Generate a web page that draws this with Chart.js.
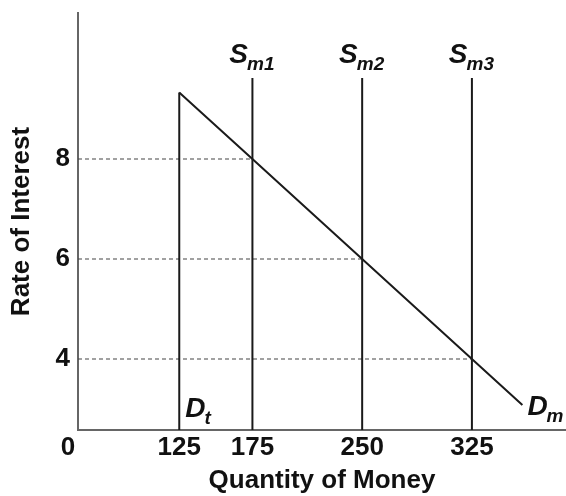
<!DOCTYPE html>
<html>
<head>
<meta charset="utf-8">
<script src="https://cdn.jsdelivr.net/npm/chart.js@4"></script>
<style>
    body { margin: 0; background: #fff; }
    #wrap { width: 566px; height: 496px; }
</style>
</head>
<body>
<div id="wrap"><canvas id="myChart"></canvas></div>
<script>
// quantities of money where the curves stand
var xTicks = [125, 175, 250, 325];
var supplyQty = [175, 250, 325];
var supplyNames = ['1', '2', '3'];
// interest rates at the equilibria
var yTicks = [4, 6, 8];
var rates = [8, 6, 4];
// demand for money (Dm) and transactions demand (Dt)
var demandQty = [125, 175, 250, 325, 359.5];
var demandRate = [9.33, 8, 6, 4, 3.08];
var transQty = 125;
var supplyTop = 9.62;

var xMin = 55.8, xMax = 389.3;
var yMin = 2.58, yMax = 10.92;

var black = '#1a1a1a';
var datasets = [];

// Dm line
datasets.push({
    data: demandQty.map(function (q, i) { return {x: q, y: demandRate[i]}; }),
    borderColor: black, borderWidth: 2, pointRadius: 0
});
// Dt line
datasets.push({
    data: [{x: transQty, y: yMin}, {x: transQty, y: demandRate[0]}],
    borderColor: black, borderWidth: 2, pointRadius: 0
});
// Sm lines and the dashed rate guides
for (let i = 0; i < supplyQty.length; i++) {
    datasets.push({
        data: [{x: supplyQty[i], y: yMin}, {x: supplyQty[i], y: supplyTop}],
        borderColor: black, borderWidth: 2, pointRadius: 0
    });
    datasets.push({
        data: [{x: xMin, y: rates[i]}, {x: supplyQty[i], y: rates[i]}],
        borderColor: '#444', borderWidth: 1.2, borderDash: [4, 3], pointRadius: 0
    });
}

function drawSub(ctx, big, small, x, y, align) {
    ctx.font = 'italic bold 28px "Liberation Sans", Arial, sans-serif';
    var w1 = ctx.measureText(big).width;
    ctx.font = 'italic bold 19px "Liberation Sans", Arial, sans-serif';
    var w2 = ctx.measureText(small).width;
    var left = align == 'center' ? x - (w1 + w2) / 2 : x;
    ctx.textAlign = 'left';
    ctx.textBaseline = 'alphabetic';
    ctx.font = 'italic bold 28px "Liberation Sans", Arial, sans-serif';
    ctx.fillText(big, left, y);
    ctx.font = 'italic bold 19px "Liberation Sans", Arial, sans-serif';
    ctx.fillText(small, left + w1 - 1, y + 7);
}

var labelPlugin = {
    id: 'curveLabels',
    afterDatasetsDraw: function (chart) {
        var ctx = chart.ctx;
        var xs = chart.scales.x, ys = chart.scales.y;
        ctx.save();
        ctx.fillStyle = '#111';
        for (let i = 0; i < supplyQty.length; i++) {
            drawSub(ctx, 'S', 'm' + supplyNames[i], xs.getPixelForValue(supplyQty[i]), ys.getPixelForValue(supplyTop) - 15, 'center');
        }
        drawSub(ctx, 'D', 't', xs.getPixelForValue(transQty) + 6, ys.getPixelForValue(yMin) - 13, 'left');
        var n = demandQty.length - 1;
        drawSub(ctx, 'D', 'm', xs.getPixelForValue(demandQty[n]) + 5, ys.getPixelForValue(demandRate[n]) + 10, 'left');
        // origin label
        ctx.font = 'bold 26px "Liberation Sans", Arial, sans-serif';
        ctx.textAlign = 'center';
        ctx.textBaseline = 'middle';
        ctx.fillText('0', chart.chartArea.left - 10, chart.chartArea.bottom + 18);
        ctx.restore();
    }
};

var tickFont = {family: '"Liberation Sans", Arial, sans-serif', size: 26, weight: 'bold'};

var ctx = document.getElementById('myChart').getContext('2d');
var myChart = new Chart(ctx, {
    type: 'line',
    data: {datasets: datasets},
    options: {
        responsive: true,
        maintainAspectRatio: false,
        animation: false,
        layout: {padding: {top: 13, right: 0, left: 0, bottom: 0}},
        plugins: {
            legend: {display: false},
            tooltip: {enabled: false}
        },
        scales: {
            x: {
                type: 'linear',
                min: xMin,
                max: xMax,
                afterBuildTicks: function (scale) {
                    scale.ticks = xTicks.map(function (v) { return {value: v}; });
                },
                afterFit: function (scale) {
                    scale.height = 66;
                    scale.paddingLeft = 0;
                    scale.paddingRight = 0;
                },
                grid: {display: false, drawTicks: false},
                border: {display: true, color: '#666', width: 2},
                ticks: {font: tickFont, color: '#111', padding: 2, maxRotation: 0, autoSkip: false},
                title: {
                    display: true,
                    text: 'Quantity of Money',
                    font: tickFont,
                    color: '#111',
                    padding: {top: 0, bottom: 0}
                }
            },
            y: {
                type: 'linear',
                min: yMin,
                max: yMax,
                afterBuildTicks: function (scale) {
                    scale.ticks = yTicks.map(function (v) { return {value: v}; });
                },
                afterFit: function (scale) {
                    scale.width = 78;
                    scale.paddingTop = 0;
                    scale.paddingBottom = 0;
                },
                grid: {display: false, drawTicks: false},
                border: {display: true, color: '#666', width: 2},
                ticks: {font: tickFont, color: '#111', padding: 8, autoSkip: false},
                title: {
                    display: true,
                    text: 'Rate of Interest',
                    font: tickFont,
                    color: '#111',
                    padding: {top: 6, bottom: 0}
                }
            }
        }
    },
    plugins: [labelPlugin]
});
</script>
</body>
</html>
